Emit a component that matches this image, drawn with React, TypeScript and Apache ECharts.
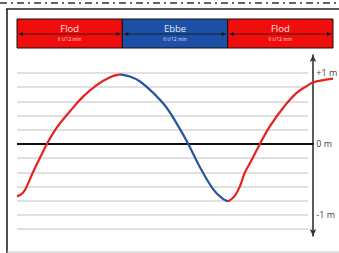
import React, { useEffect, useRef } from "react";
import * as echarts from "echarts";

// Tide phases (hours)
const phaseLabels = ["Flod", "Ebbe", "Flod"];
const phaseSubLabels = ["6 t/12 min", "6 t/12 min", "6 t/12 min"];
const phaseStart = [0, 6.2, 12.4];
const phaseEnd = [6.2, 12.4, 18.6];
const phaseColors = ["#f20d0d", "#1c4fa6", "#f20d0d"];

// Water level curve [hour, metres]
const flod1: [number, number][] = [
  [0, -0.74], [0.35, -0.69], [0.65, -0.56], [0.9, -0.42], [1.2, -0.27],
  [1.76, 0], [2.34, 0.23], [3.12, 0.46], [3.9, 0.67],
  [4.69, 0.83], [5.47, 0.94], [6.06, 0.98],
];
const ebbe: [number, number][] = [
  [6.06, 0.98], [6.65, 0.95], [7.24, 0.88], [8.02, 0.72], [8.81, 0.51],
  [9.49, 0.25], [10.08, 0], [10.77, -0.33], [11.55, -0.64], [12.14, -0.78],
  [12.44, -0.81],
];
const flod2: [number, number][] = [
  [12.44, -0.81], [12.83, -0.73], [13.15, -0.58], [13.4, -0.41],
  [13.85, -0.21], [14.3, 0], [14.89, 0.25], [15.67, 0.51], [16.46, 0.72],
  [17.15, 0.83], [17.44, 0.87], [18.03, 0.9], [18.6, 0.92],
];

// Axis ticks (metres)
const levelTicks = [1, 0, -1];
const levelTickLabels = ["+1 m", "0 m", "-1 m"];
const zeroLineEnd = 17.47;

const FONT = "'Open Sans', 'Liberation Sans', sans-serif";

export default function App() {
  const ref = useRef<HTMLDivElement>(null);
  useEffect(() => {
    document.body.style.margin = "0";
    const chart = echarts.init(ref.current!, null, { renderer: "svg" });
    const red = "#e5221f";
    const blue = "#27569f";
    const lineSeries = (name: string, data: [number, number][], color: string, extra: any = {}) => ({
      type: "line",
      name,
      xAxisIndex: 2,
      yAxisIndex: 2,
      data,
      symbol: "none",
      smooth: 0.4,
      lineStyle: { color, width: 2.2 },
      z: 5,
      ...extra,
    });
    chart.setOption({
      animation: false,
      backgroundColor: "#ffffff",
      grid: [
        { left: 17, width: 291, top: 73, height: 156 },
        { left: 313, width: 1, top: 55, height: 181 },
        { left: 17, width: 316, top: 73, height: 156 },
        { left: 17, width: 316, top: 19, height: 29 },
      ],
      xAxis: [
        { gridIndex: 0, type: "value", min: 0, max: 1, show: false },
        { gridIndex: 1, type: "value", min: 0, max: 1, show: false },
        { gridIndex: 2, type: "value", min: 0, max: 18.6, show: false },
        { gridIndex: 3, type: "value", min: 0, max: 18.6, show: false },
      ],
      yAxis: [
        {
          gridIndex: 0, type: "value", min: -1.2, max: 1.0, interval: 0.2,
          axisLine: { show: false }, axisTick: { show: false }, axisLabel: { show: false },
          splitLine: { show: true, lineStyle: { color: "#d6d6d6", width: 1.6 } },
        },
        {
          gridIndex: 1, type: "value", position: "right", min: -1.3, max: 1.25, interval: 0.1,
          axisLine: { show: true, symbol: ["arrow", "arrow"], symbolSize: [5, 7], lineStyle: { color: "#333", width: 1.6 } },
          axisTick: { show: false },
          splitLine: { show: false },
          axisLabel: {
            show: true, margin: 3, color: "#444", fontSize: 9, fontFamily: FONT,
            showMinLabel: false, showMaxLabel: false,
            formatter: (v: number) => {
              const i = levelTicks.findIndex((t) => Math.abs(t - v) < 1e-6);
              return i >= 0 ? levelTickLabels[i] : "";
            },
          },
        },
        { gridIndex: 2, type: "value", min: -1.2, max: 1.0, show: false },
        { gridIndex: 3, type: "value", min: 0, max: 1, show: false },
      ],
      series: [
        lineSeries("Flod", flod1, red, {
          markLine: {
            silent: true,
            symbol: "none",
            label: { show: false },
            lineStyle: { color: "#111", width: 1.8, type: "solid" },
            data: [[{ coord: [0, 0] }, { coord: [zeroLineEnd, 0] }]],
            z: 3,
          },
        }),
        lineSeries("Ebbe", ebbe, blue),
        lineSeries("Flod", flod2, red),
        {
          type: "custom",
          xAxisIndex: 3,
          yAxisIndex: 3,
          data: phaseLabels.map((_, i) => [phaseStart[i], phaseEnd[i], i]),
          renderItem: (params: any, api: any) => {
            const i = api.value(2);
            const s = api.coord([api.value(0), 1]);
            const e = api.coord([api.value(1), 0]);
            const x0 = s[0], y0 = s[1], x1 = e[0], y1 = e[1];
            const w = x1 - x0, h = y1 - y0;
            const my = y0 + h * 0.52;
            const cx = (x0 + x1) / 2;
            const dark = "#1a1a1a";
            return {
              type: "group",
              children: [
                { type: "rect", shape: { x: x0, y: y0, width: w, height: h }, style: { fill: phaseColors[i], stroke: "#111", lineWidth: 1 } },
                { type: "line", shape: { x1: x0 + 2, y1: my, x2: x1 - 2, y2: my }, style: { stroke: dark, lineWidth: 0.8 } },
                { type: "polygon", shape: { points: [[x0 + 1.5, my], [x0 + 6, my - 2], [x0 + 6, my + 2]] }, style: { fill: dark } },
                { type: "polygon", shape: { points: [[x1 - 1.5, my], [x1 - 6, my - 2], [x1 - 6, my + 2]] }, style: { fill: dark } },
                { type: "text", x: cx, y: y0 + 9.5, style: { text: phaseLabels[i], fill: "#ffffff", fontSize: 9.5, fontFamily: FONT, align: "center", verticalAlign: "middle", opacity: 0.9 } },
                { type: "text", x: cx, y: y0 + 19.5, style: { text: phaseSubLabels[i], fill: "#ffffff", fontSize: 5, fontFamily: FONT, align: "center", verticalAlign: "middle", opacity: 0.85 } },
              ],
            };
          },
          z: 4,
        },
      ],
      graphic: [
        { type: "line", shape: { x1: 0, y1: 3, x2: 339, y2: 3 }, style: { stroke: "#333", lineWidth: 1.5, lineDash: [7, 4, 2, 4] } },
        { type: "line", shape: { x1: 6, y1: 9, x2: 339, y2: 9 }, style: { stroke: "#222", lineWidth: 1.6 } },
        { type: "line", shape: { x1: 7, y1: 9, x2: 7, y2: 253 }, style: { stroke: "#222", lineWidth: 1.6 } },
        { type: "line", shape: { x1: 7, y1: 252, x2: 339, y2: 252 }, style: { stroke: "#c4c4c4", lineWidth: 1.2 } },
      ],
    });
    return () => chart.dispose();
  }, []);
  return <div ref={ref} style={{ width: 339, height: 253 }} />;
}
